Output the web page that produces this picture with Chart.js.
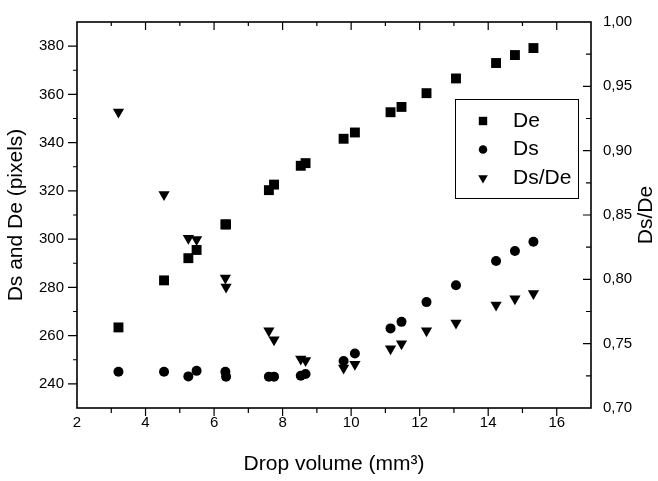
<!DOCTYPE html>
<html>
<head>
<meta charset="utf-8">
<script src="https://cdn.jsdelivr.net/npm/chart.js@4/dist/chart.umd.min.js"></script>
<style>
  body { margin: 0; background: #fff; }
  #wrap { width: 658px; height: 481px; }
</style>
</head>
<body>
<div id="wrap"><canvas id="grafico" width="658" height="481"></canvas></div>
<script>
// Dados
const volume = [3.21, 4.54, 5.25, 5.49, 6.33, 6.35, 7.60, 7.75, 8.53, 8.67, 9.78, 10.11, 11.15, 11.47, 12.20, 13.06, 14.23, 14.78, 15.32];
const valoresDe = [263.4, 282.9, 292.1, 295.5, 306.1, 306.1, 320.3, 322.6, 330.4, 331.5, 341.6, 344.2, 352.6, 354.8, 360.5, 366.6, 373.0, 376.3, 379.2];
const valoresDs = [245.0, 245.0, 243.1, 245.4, 245.0, 243.0, 243.0, 243.0, 243.4, 244.1, 249.5, 252.6, 263.0, 265.7, 273.9, 280.9, 290.9, 295.1, 298.9];
const razaoDsDe = [0.930, 0.866, 0.832, 0.831, 0.801, 0.794, 0.760, 0.753, 0.738, 0.737, 0.731, 0.734, 0.746, 0.750, 0.760, 0.766, 0.780, 0.785, 0.789];

// Rótulos dos eixos
const ticksX = [2, 4, 6, 8, 10, 12, 14, 16];
const ticksEsq = [240, 260, 280, 300, 320, 340, 360, 380];
const ticksDir = [0.70, 0.75, 0.80, 0.85, 0.90, 0.95, 1.00];

const fonte = '"Liberation Sans", Arial, sans-serif';

function pontos(xs, ys) {
    return xs.map((x, i) => ({ x: x, y: ys[i] }));
}

const series = [
    { label: 'De', data: pontos(volume, valoresDe), yAxisID: 'y', pointStyle: 'rect', pointRadius: 7, rotation: 0 },
    { label: 'Ds', data: pontos(volume, valoresDs), yAxisID: 'y', pointStyle: 'circle', pointRadius: 5, rotation: 0 },
    { label: 'Ds/De', data: pontos(volume, razaoDsDe), yAxisID: 'y1', pointStyle: 'triangle', pointRadius: 6.5, rotation: 180 }
];

// Moldura, marcas de escala, título da direita e legenda
const moldura = {
    id: 'moldura',
    afterDraw(chart) {
        const { ctx, chartArea: a, scales } = chart;
        ctx.save();
        ctx.strokeStyle = '#000';
        ctx.lineWidth = 1.2;
        ctx.beginPath();
        for (let v = 3; v <= 16; v++) {
            const x = scales.x.getPixelForValue(v);
            const maior = v % 2 === 0;
            ctx.moveTo(x, a.bottom); ctx.lineTo(x, a.bottom + (maior ? 8 : 5));
            ctx.moveTo(x, a.top); ctx.lineTo(x, a.top + (maior ? 8 : 4));
        }
        for (let v = 240; v <= 380; v += 10) {
            const y = scales.y.getPixelForValue(v);
            ctx.moveTo(a.left, y); ctx.lineTo(a.left - (v % 20 === 0 ? 9 : 4), y);
        }
        for (let i = 1; i < 12; i++) {
            const y = scales.y1.getPixelForValue(0.7 + i * 0.025);
            ctx.moveTo(a.right, y); ctx.lineTo(a.right - (i % 2 === 0 ? 8 : 5), y);
        }
        ctx.stroke();

        ctx.lineWidth = 1.6;
        ctx.strokeRect(a.left, a.top, a.right - a.left, a.bottom - a.top);

        // título do eixo direito
        ctx.fillStyle = '#000';
        ctx.font = '21px ' + fonte;
        ctx.textAlign = 'center';
        ctx.textBaseline = 'middle';
        ctx.save();
        ctx.translate(646, (a.top + a.bottom) / 2);
        ctx.rotate(-Math.PI / 2);
        ctx.fillText('Ds/De', 0, 0);
        ctx.restore();

        // legenda dentro do gráfico
        ctx.lineWidth = 1;
        ctx.strokeRect(455.5, 99.5, 123, 99);
        const linhas = [121, 149.5, 178];
        series.forEach((s, i) => {
            const opts = { pointStyle: s.pointStyle, radius: s.pointRadius * 0.85, rotation: s.rotation, borderWidth: 0 };
            ctx.fillStyle = '#000';
            Chart.helpers.drawPoint(ctx, opts, 483, linhas[i]);
            ctx.fillStyle = '#000';
            ctx.textAlign = 'left';
            ctx.fillText(s.label, 513, linhas[i]);
        });
        ctx.restore();
    }
};

new Chart(document.getElementById('grafico'), {
    type: 'scatter',
    data: {
        datasets: series.map(s => ({
            label: s.label,
            data: s.data,
            yAxisID: s.yAxisID,
            pointStyle: s.pointStyle,
            pointRadius: s.pointRadius,
            pointRotation: s.rotation,
            pointBackgroundColor: '#000',
            pointBorderColor: '#000',
            pointBorderWidth: 0,
            showLine: false
        }))
    },
    options: {
        responsive: false,
        animation: false,
        layout: { padding: { top: 14, left: 0, right: 0, bottom: 0 } },
        plugins: { legend: { display: false }, tooltip: { enabled: false } },
        scales: {
            x: {
                type: 'linear', min: 2, max: 17,
                afterBuildTicks: s => { s.ticks = ticksX.map(v => ({ value: v })); },
                afterFit: s => { s.height = 73; },
                grid: { display: false, drawTicks: false },
                border: { display: false },
                ticks: { color: '#000', padding: 6, font: { family: fonte, size: 15 } },
                title: { display: true, text: 'Drop volume (mm³)', color: '#000', font: { family: fonte, size: 21 }, padding: { top: 0, bottom: 4 } }
            },
            y: {
                type: 'linear', position: 'left', min: 230, max: 390,
                afterBuildTicks: s => { s.ticks = ticksEsq.map(v => ({ value: v })); },
                afterFit: s => { s.width = 77; },
                grid: { display: false, drawTicks: false },
                border: { display: false },
                ticks: { color: '#000', padding: 13, font: { family: fonte, size: 15 } },
                title: { display: true, text: 'Ds and De (pixels)', color: '#000', font: { family: fonte, size: 21 }, padding: { top: 4, bottom: 0 } }
            },
            y1: {
                type: 'linear', position: 'right', min: 0.7, max: 1.0,
                afterBuildTicks: s => { s.ticks = ticksDir.map(v => ({ value: v })); },
                afterFit: s => { s.width = 67; },
                grid: { display: false, drawTicks: false },
                border: { display: false },
                ticks: { color: '#000', padding: 12, font: { family: fonte, size: 15 },
                    callback: v => v.toFixed(2).replace('.', ',') }
            }
        }
    },
    plugins: [moldura]
});
</script>
</body>
</html>
